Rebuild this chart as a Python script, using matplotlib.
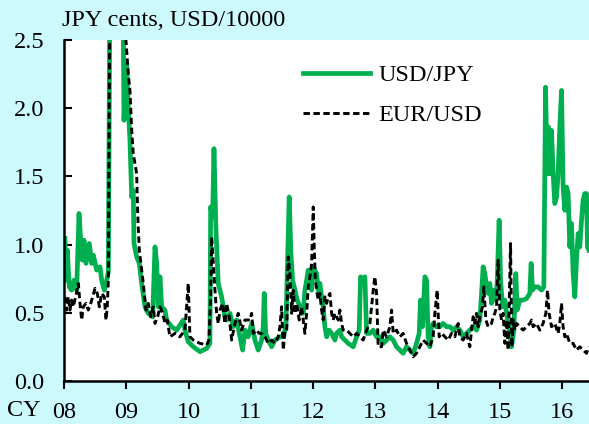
import matplotlib
matplotlib.use("Agg")
import matplotlib.pyplot as plt

# ---- data (decimal calendar year, value) ----
usdjpy_t = [2008.016, 2008.032, 2008.053, 2008.085, 2008.123, 2008.161, 2008.203, 2008.241, 2008.268, 2008.294,
            2008.321, 2008.353, 2008.406, 2008.444, 2008.471, 2008.524, 2008.578, 2008.605, 2008.647, 2008.685,
            2008.712, 2008.75, 2008.93, 2008.952, 2008.963, 2009.006, 2009.032, 2009.059, 2009.087, 2009.112,
            2009.124, 2009.167, 2009.209, 2009.247, 2009.300, 2009.353, 2009.424, 2009.461, 2009.488, 2009.514,
            2009.541, 2009.568, 2009.621, 2009.648, 2009.728, 2009.809, 2009.915, 2009.942, 2009.995, 2010.076,
            2010.183, 2010.291, 2010.343, 2010.355, 2010.387, 2010.408, 2010.440, 2010.477, 2010.531, 2010.584,
            2010.611, 2010.665, 2010.717, 2010.772, 2010.825, 2010.868, 2010.905, 2010.958, 2011.013, 2011.066,
            2011.119, 2011.173, 2011.199, 2011.215, 2011.238, 2011.279, 2011.334, 2011.387, 2011.467, 2011.520,
            2011.563, 2011.591, 2011.616, 2011.644, 2011.671, 2011.708, 2011.745, 2011.788, 2011.815, 2011.841,
            2011.868, 2011.896, 2011.921, 2011.949, 2011.976, 2012.002, 2012.029, 2012.056, 2012.082, 2012.109,
            2012.136, 2012.162, 2012.189, 2012.217, 2012.258, 2012.297, 2012.350, 2012.377, 2012.430, 2012.458,
            2012.510, 2012.564, 2012.644, 2012.698, 2012.740, 2012.762, 2012.804, 2012.831, 2012.859, 2012.912,
            2012.965, 2013.019, 2013.072, 2013.125, 2013.179, 2013.233, 2013.286, 2013.340, 2013.393, 2013.446,
            2013.500, 2013.554, 2013.607, 2013.661, 2013.703, 2013.725, 2013.757, 2013.795, 2013.822, 2013.847,
            2013.875, 2013.902, 2013.928, 2013.982, 2014.035, 2014.088, 2014.143, 2014.196, 2014.249, 2014.303,
            2014.356, 2014.409, 2014.464, 2014.517, 2014.570, 2014.624, 2014.677, 2014.705, 2014.730, 2014.758,
            2014.785, 2014.811, 2014.838, 2014.865, 2014.891, 2014.934, 2014.955, 2014.987, 2015.010, 2015.042,
            2015.079, 2015.106, 2015.132, 2015.159, 2015.186, 2015.223, 2015.255, 2015.276, 2015.319, 2015.372,
            2015.427, 2015.480, 2015.501, 2015.523, 2015.560, 2015.613, 2015.668, 2015.705, 2015.732, 2015.758,
            2015.780, 2015.801, 2015.828, 2015.854, 2015.881, 2015.909, 2015.934, 2015.961, 2015.989, 2016.014,
            2016.042, 2016.069, 2016.095, 2016.122, 2016.149, 2016.175, 2016.202, 2016.229, 2016.256, 2016.282,
            2016.310, 2016.335, 2016.362, 2016.390, 2016.406, 2016.427]
usdjpy_v = [1.045, 0.739, 0.959, 0.690, 0.666, 0.739, 0.666, 1.228, 1.032, 0.886,
            1.032, 0.862, 1.008, 0.862, 0.922, 0.813, 0.837, 0.739, 0.666, 0.739,
            0.80, 4.0, 4.0, 2.60, 1.911, 2.326, 2.008, 1.764, 1.349, 1.398,
            1.008, 0.910, 0.862, 0.715, 0.544, 0.496, 0.471, 0.983, 0.862, 0.544,
            0.764, 0.544, 0.520, 0.447, 0.398, 0.373, 0.447, 0.373, 0.288, 0.251,
            0.215, 0.239, 0.276, 1.276, 1.203, 1.703, 1.105, 0.715, 0.617, 0.471,
            0.447, 0.496, 0.398, 0.447, 0.324, 0.227, 0.373, 0.324, 0.422, 0.300,
            0.227, 0.300, 0.398, 0.642, 0.349, 0.300, 0.251, 0.300, 0.324, 0.324,
            0.398, 0.910, 1.349, 0.935, 0.739, 0.666, 0.593, 0.544, 0.544, 0.496,
            0.666, 0.739, 0.813, 0.739, 0.666, 0.837, 0.813, 0.788, 0.666, 0.715,
            0.617, 0.544, 0.398, 0.324, 0.373, 0.349, 0.300, 0.349, 0.373, 0.324,
            0.300, 0.276, 0.251, 0.324, 0.373, 0.764, 0.739, 0.764, 0.349, 0.349,
            0.373, 0.324, 0.324, 0.276, 0.300, 0.324, 0.300, 0.251, 0.227, 0.203,
            0.251, 0.227, 0.203, 0.276, 0.349, 0.593, 0.398, 0.764, 0.739, 0.324,
            0.251, 0.398, 0.422, 0.398, 0.398, 0.422, 0.398, 0.398, 0.373, 0.398,
            0.373, 0.324, 0.349, 0.373, 0.398, 0.373, 0.447, 0.642, 0.837, 0.788,
            0.690, 0.642, 0.715, 0.569, 0.666, 0.593, 0.715, 1.179, 0.739, 0.544,
            0.593, 0.496, 0.422, 0.349, 0.251, 0.373, 0.788, 0.520, 0.593, 0.593,
            0.605, 0.642, 0.862, 0.666, 0.690, 0.690, 0.666, 0.690, 2.154, 1.520,
            1.862, 1.520, 1.837, 1.520, 1.301, 1.349, 1.520, 1.862, 2.130, 1.422,
            1.252, 1.422, 1.374, 0.983, 1.154, 0.788, 0.617, 0.886, 1.081, 0.983,
            1.179, 1.325, 1.374, 1.374, 0.983, 0.959]

eurusd_t = [2008.016, 2008.043, 2008.069, 2008.096, 2008.123, 2008.149, 2008.193, 2008.230, 2008.257, 2008.284,
            2008.310, 2008.353, 2008.390, 2008.429, 2008.461, 2008.498, 2008.535, 2008.567, 2008.605, 2008.647,
            2008.674, 2008.695, 2008.712, 2008.75, 2008.95, 2008.979, 2009.006, 2009.032, 2009.059, 2009.087,
            2009.112, 2009.140, 2009.167, 2009.183, 2009.209, 2009.247, 2009.273, 2009.316, 2009.353, 2009.392,
            2009.433, 2009.461, 2009.504, 2009.541, 2009.584, 2009.621, 2009.658, 2009.701, 2009.782, 2009.862,
            2009.942, 2009.995, 2010.022, 2010.076, 2010.183, 2010.291, 2010.327, 2010.355, 2010.371, 2010.397,
            2010.424, 2010.451, 2010.477, 2010.504, 2010.547, 2010.584, 2010.611, 2010.653, 2010.692, 2010.745,
            2010.798, 2010.852, 2010.905, 2010.986, 2011.013, 2011.039, 2011.093, 2011.135, 2011.173, 2011.226,
            2011.279, 2011.334, 2011.387, 2011.440, 2011.467, 2011.494, 2011.520, 2011.547, 2011.575, 2011.600,
            2011.627, 2011.655, 2011.681, 2011.708, 2011.735, 2011.777, 2011.815, 2011.841, 2011.868, 2011.896,
            2011.921, 2011.949, 2011.976, 2012.002, 2012.018, 2012.034, 2012.056, 2012.082, 2012.109, 2012.136,
            2012.162, 2012.189, 2012.217, 2012.242, 2012.270, 2012.297, 2012.322, 2012.350, 2012.377, 2012.403,
            2012.430, 2012.458, 2012.483, 2012.538, 2012.590, 2012.644, 2012.698, 2012.751, 2012.804, 2012.859,
            2012.912, 2012.939, 2012.965, 2012.992, 2013.019, 2013.045, 2013.099, 2013.125, 2013.179, 2013.233,
            2013.260, 2013.286, 2013.340, 2013.393, 2013.446, 2013.500, 2013.554, 2013.607, 2013.661, 2013.714,
            2013.767, 2013.822, 2013.875, 2013.928, 2013.955, 2013.992, 2014.024, 2014.063, 2014.116, 2014.169,
            2014.223, 2014.276, 2014.329, 2014.356, 2014.409, 2014.464, 2014.517, 2014.544, 2014.570, 2014.597,
            2014.624, 2014.650, 2014.677, 2014.720, 2014.741, 2014.774, 2014.811, 2014.865, 2014.891, 2014.918,
            2014.945, 2014.971, 2014.998, 2015.026, 2015.051, 2015.079, 2015.106, 2015.132, 2015.148, 2015.170,
            2015.191, 2015.213, 2015.239, 2015.266, 2015.319, 2015.372, 2015.427, 2015.480, 2015.507, 2015.533,
            2015.587, 2015.640, 2015.693, 2015.737, 2015.764, 2015.789, 2015.828, 2015.881, 2015.934, 2015.961,
            2015.989, 2016.014, 2016.042, 2016.069, 2016.122, 2016.175, 2016.229, 2016.282, 2016.335, 2016.390,
            2016.427]
eurusd_v = [0.617, 0.520, 0.617, 0.520, 0.593, 0.544, 0.630, 0.715, 0.569, 0.447,
            0.544, 0.569, 0.520, 0.569, 0.617, 0.679, 0.642, 0.544, 0.642, 0.617,
            0.447, 0.544, 0.739, 4.0, 4.0, 2.60, 2.423, 2.253, 2.130, 1.837,
            1.667, 1.594, 1.520, 1.228, 0.959, 0.813, 0.715, 0.520, 0.569, 0.471,
            0.544, 0.422, 0.471, 0.544, 0.496, 0.422, 0.447, 0.324, 0.349, 0.324,
            0.373, 0.715, 0.324, 0.300, 0.276, 0.264, 0.300, 0.617, 1.056, 0.862,
            0.666, 0.496, 0.422, 0.520, 0.569, 0.422, 0.569, 0.471, 0.300, 0.422,
            0.496, 0.373, 0.447, 0.447, 0.496, 0.349, 0.373, 0.349, 0.349, 0.324,
            0.276, 0.300, 0.276, 0.324, 0.398, 0.544, 0.227, 0.349, 0.349, 0.910,
            0.788, 0.496, 0.666, 0.496, 0.569, 0.447, 0.544, 0.447, 0.349, 0.496,
            0.690, 0.764, 0.862, 1.276, 0.983, 0.764, 0.666, 0.593, 0.642, 0.520,
            0.447, 0.617, 0.569, 0.617, 0.642, 0.496, 0.447, 0.496, 0.471, 0.447,
            0.520, 0.422, 0.373, 0.373, 0.349, 0.324, 0.349, 0.324, 0.300, 0.373,
            0.422, 0.544, 0.666, 0.764, 0.642, 0.251, 0.251, 0.373, 0.324, 0.398,
            0.520, 0.349, 0.373, 0.324, 0.349, 0.276, 0.227, 0.178, 0.203, 0.251,
            0.300, 0.276, 0.251, 0.324, 0.496, 0.666, 0.324, 0.349, 0.324, 0.300,
            0.349, 0.324, 0.422, 0.324, 0.300, 0.349, 0.251, 0.373, 0.471, 0.422,
            0.496, 0.398, 0.471, 0.544, 0.690, 0.447, 0.398, 0.422, 0.471, 0.496,
            0.544, 0.886, 0.520, 0.447, 0.496, 0.276, 0.447, 0.227, 0.544, 1.008,
            0.251, 0.447, 0.373, 0.422, 0.398, 0.373, 0.398, 0.422, 0.447, 0.398,
            0.422, 0.373, 0.422, 0.496, 0.666, 0.496, 0.398, 0.422, 0.349, 0.422,
            0.569, 0.398, 0.324, 0.349, 0.276, 0.276, 0.227, 0.251, 0.227, 0.203,
            0.251]

year_ticks = [2008, 2009, 2010, 2011, 2012, 2013, 2014, 2015, 2016]
year_labels = ["08", "09", "10", "11", "12", "13", "14", "15", "16"]
y_ticks = [0.0, 0.5, 1.0, 1.5, 2.0, 2.5]
series_names = ["USD/JPY", "EUR/USD"]
unit_text = "JPY cents, USD/10000"

# ---- style ----
plt.rcParams['font.family'] = ['Liberation Serif', 'DejaVu Serif']
FS = 17.5
BG = '#ccf9fc'
GREEN = '#00b050'

W, H = 589, 424
fig = plt.figure(figsize=(W / 100, H / 100), dpi=100)
fig.patch.set_facecolor(BG)
ax = fig.add_axes([64 / W, 1 - 381 / H, (589 - 64) / W, (381 - 40) / H])
ax.set_facecolor('white')

ax.plot(usdjpy_t, usdjpy_v, color=GREEN, lw=3.4, label=series_names[0])
ax.plot(eurusd_t, eurusd_v, color='black', lw=2.1, ls=(0, (2.2, 1.2)), label=series_names[1])

ax.set_xlim(2008, 2016.43)
ax.set_ylim(0, 2.5)

for s in ['top', 'right']:
    ax.spines[s].set_visible(False)
for s in ['left', 'bottom']:
    ax.spines[s].set_linewidth(1.8)
    ax.spines[s].set_color('black')

ax.set_yticks(y_ticks)
ax.set_yticklabels([f"{v:.1f}" for v in y_ticks], fontsize=FS)
ax.tick_params(axis='y', direction='in', length=6, width=1.5, pad=14)
ax.set_xticks(year_ticks)
ax.set_xticklabels(year_labels, fontsize=FS)
ax.tick_params(axis='x', direction='out', length=6, width=1.5, pad=9)

fig.text(24 / W, 1 - 410 / H, "CY", fontsize=FS, ha='center', va='center')
fig.text(62 / W, 1 - 20 / H, unit_text, fontsize=FS, ha='left', va='center')

leg = ax.legend(loc='upper left', bbox_to_anchor=((303 - 64) / 525, (381 - 64) / 341),
                frameon=False, fontsize=FS, handlelength=2.75, handletextpad=0.35,
                labelspacing=0.75, borderpad=0, borderaxespad=0)

fig.savefig('out.png', dpi=100, facecolor=BG)
